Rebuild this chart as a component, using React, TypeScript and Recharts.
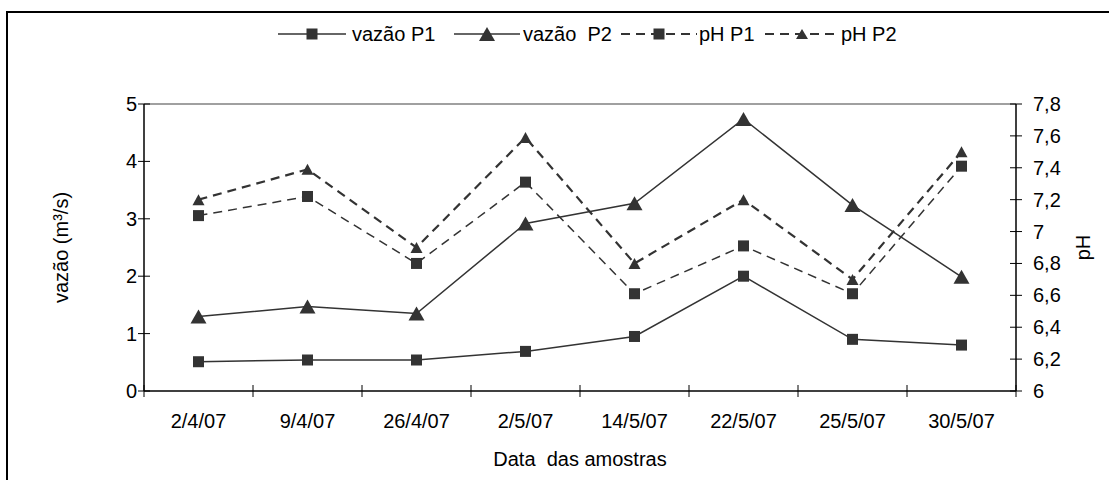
import React from 'react';
import { LineChart, Line, XAxis, YAxis, Legend, ReferenceLine } from 'recharts';

const categories = ['2/4/07', '9/4/07', '26/4/07', '2/5/07', '14/5/07', '22/5/07', '25/5/07', '30/5/07'];
const vazaoP1 = [0.51, 0.54, 0.54, 0.69, 0.95, 2.0, 0.9, 0.8];
const vazaoP2 = [1.3, 1.47, 1.35, 2.92, 3.27, 4.74, 3.24, 1.99];
const phP1 = [7.1, 7.22, 6.8, 7.31, 6.61, 6.91, 6.61, 7.41];
const phP2 = [7.2, 7.39, 6.9, 7.59, 6.8, 7.2, 6.7, 7.5];
const leftTicks = [0, 1, 2, 3, 4, 5];
const rightTicks = [6, 6.2, 6.4, 6.6, 6.8, 7, 7.2, 7.4, 7.6, 7.8];
const xTicks = [-0.5, 0, 0.5, 1, 1.5, 2, 2.5, 3, 3.5, 4, 4.5, 5, 5.5, 6, 6.5, 7, 7.5];

const data = categories.map((c, i) => ({
  x: i,
  cat: c,
  vazaoP1: vazaoP1[i],
  vazaoP2: vazaoP2[i],
  phP1: phP1[i],
  phP2: phP2[i],
}));

const INK = '#333333';
const FONT = '"Liberation Sans", Arial, sans-serif';

const squareDot = (size: number) => (props: any) => {
  const { cx, cy, index } = props;
  if (cx == null || cy == null) return <g key={`s${index}`} />;
  return <rect key={`s${index}`} x={cx - size / 2} y={cy - size / 2} width={size} height={size} fill={INK} />;
};

const triDot = (w: number, h: number) => (props: any) => {
  const { cx, cy, index } = props;
  if (cx == null || cy == null) return <g key={`t${index}`} />;
  const pts = `${cx},${cy - h / 2} ${cx + w / 2},${cy + h / 2} ${cx - w / 2},${cy + h / 2}`;
  return <polygon key={`t${index}`} points={pts} fill={INK} />;
};

const LeftTick = (props: any) => {
  const { x, y, payload } = props;
  return (
    <g>
      <line x1={x} y1={y} x2={x + 12} y2={y} stroke="#000" strokeWidth={1} />
      <text x={x - 1} y={y} dy="0.35em" textAnchor="end" fontSize={20} fontFamily={FONT} fill="#000">
        {String(payload.value)}
      </text>
    </g>
  );
};

const RightTick = (props: any) => {
  const { x, y, payload } = props;
  return (
    <g>
      <line x1={x - 12} y1={y} x2={x} y2={y} stroke="#000" strokeWidth={1} />
      <text x={x + 11} y={y} dy="0.35em" textAnchor="start" fontSize={20} fontFamily={FONT} fill="#000">
        {String(payload.value).replace('.', ',')}
      </text>
    </g>
  );
};

const XTick = (props: any) => {
  const { x, y, payload } = props;
  const v = payload.value;
  if (Number.isInteger(v)) {
    return (
      <text x={x} y={y + 31} textAnchor="middle" fontSize={20} fontFamily={FONT} fill="#000">
        {categories[v]}
      </text>
    );
  }
  return <line x1={x} y1={y - 12} x2={x} y2={y} stroke="#000" strokeWidth={1} />;
};

const legendItems = [
  { name: 'vazão P1', marker: 'square', dashed: false },
  { name: 'vazão  P2', marker: 'tri', dashed: false },
  { name: 'pH P1', marker: 'square', dashed: true },
  { name: 'pH P2', marker: 'tri', dashed: true },
];
const legendLineStart = [0, 176, 343, 487];
const legendLineWidth = [68, 66, 76, 74];
const legendTextStart = [74, 245, 421, 563];

const LegendContent = () => {
  const cy = 16;
  return (
    <svg width={660} height={32} style={{ overflow: 'visible' }}>
      {legendItems.map((it, i) => {
        const x0 = legendLineStart[i];
        const lw = legendLineWidth[i];
        const mx = x0 + lw / 2;
        return (
          <g key={it.name}>
            <line
              x1={x0}
              y1={cy}
              x2={x0 + lw}
              y2={cy}
              stroke={INK}
              strokeWidth={it.dashed ? 2 : 1.5}
              strokeDasharray={it.dashed ? '9 6' : undefined}
            />
            {it.marker === 'square' ? (
              <rect x={mx - 5.5} y={cy - 5.5} width={11} height={11} fill={INK} />
            ) : (
              <polygon
                points={
                  it.dashed
                    ? `${mx},${cy - 5} ${mx + 6},${cy + 5} ${mx - 6},${cy + 5}`
                    : `${mx},${cy - 7} ${mx + 8},${cy + 7} ${mx - 8},${cy + 7}`
                }
                fill={INK}
              />
            )}
            <text
              x={legendTextStart[i]}
              y={cy}
              dy="0.35em"
              fontSize={20}
              fontFamily={FONT}
              fill="#000"
              style={{ whiteSpace: 'pre' }}
            >
              {it.name}
            </text>
          </g>
        );
      })}
    </svg>
  );
};

export default function App() {
  return (
    <div style={{ position: 'absolute', left: 0, top: 0, width: 1109, height: 480, overflow: 'hidden', background: '#fff' }}>
      <div
        style={{
          position: 'absolute',
          left: 6,
          top: 11,
          width: 1200,
          height: 600,
          border: '2px solid #000',
        }}
      />
      <div style={{ position: 'absolute', left: 0, top: 0 }}>
        <LineChart width={1109} height={480} data={data} margin={{ top: 104, right: 0, bottom: 0, left: 0 }}>
          <XAxis
            dataKey="x"
            type="number"
            domain={[-0.5, 7.5]}
            ticks={xTicks}
            interval={0}
            height={89}
            tickSize={6}
            tickMargin={0}
            tickLine={false}
            tick={<XTick />}
            axisLine={{ stroke: '#000', strokeWidth: 1.5 }}
            label={{
              content: (p: any) => {
                const vb = p.viewBox;
                return (
                  <text x={vb.x + vb.width / 2} y={vb.y + 75} textAnchor="middle" fontSize={20} fontFamily={FONT} fill="#000" style={{ whiteSpace: 'pre' }}>
                    Data  das amostras
                  </text>
                );
              },
            }}
          />
          <YAxis
            yAxisId="left"
            domain={[0, 5]}
            ticks={leftTicks}
            interval={0}
            width={144}
            tickSize={6}
            tickMargin={0}
            tickLine={false}
            tick={<LeftTick />}
            axisLine={{ stroke: '#000', strokeWidth: 1.5 }}
            label={{
              content: (p: any) => {
                const vb = p.viewBox;
                const cx = vb.x + 61;
                const cy = vb.y + vb.height / 2;
                return (
                  <text x={cx} y={cy} dy="0.35em" textAnchor="middle" fontSize={20} fontFamily={FONT} fill="#000" transform={`rotate(-90, ${cx}, ${cy})`}>
                    vazão (m³/s)
                  </text>
                );
              },
            }}
          />
          <YAxis
            yAxisId="right"
            orientation="right"
            domain={[6, 7.8]}
            ticks={rightTicks}
            interval={0}
            width={93}
            tickSize={6}
            tickMargin={0}
            tickLine={false}
            tick={<RightTick />}
            axisLine={{ stroke: '#000', strokeWidth: 1.5 }}
            label={{
              content: (p: any) => {
                const vb = p.viewBox;
                const cx = vb.x + 67;
                const cy = vb.y + vb.height / 2;
                return (
                  <text x={cx} y={cy} dy="0.35em" textAnchor="middle" fontSize={20} fontFamily={FONT} fill="#000" transform={`rotate(-90, ${cx}, ${cy})`}>
                    pH
                  </text>
                );
              },
            }}
          />
          <ReferenceLine yAxisId="left" y={5} stroke="#808080" strokeWidth={1.5} />
          <Legend
            layout="vertical"
            verticalAlign="middle"
            align="center"
            content={<LegendContent />}
            wrapperStyle={{ position: 'absolute', top: 18, left: 278, width: 660, height: 32 }}
          />
          <Line
            yAxisId="left"
            dataKey="vazaoP1"
            name="vazão P1"
            stroke={INK}
            strokeWidth={1.5}
            dot={squareDot(11)}
            activeDot={false}
            isAnimationActive={false}
          />
          <Line
            yAxisId="left"
            dataKey="vazaoP2"
            name="vazão  P2"
            stroke={INK}
            strokeWidth={1.5}
            dot={triDot(16, 14)}
            activeDot={false}
            isAnimationActive={false}
          />
          <Line
            yAxisId="right"
            dataKey="phP1"
            name="pH P1"
            stroke={INK}
            strokeWidth={1.5}
            strokeDasharray="9 6"
            dot={squareDot(11)}
            activeDot={false}
            isAnimationActive={false}
          />
          <Line
            yAxisId="right"
            dataKey="phP2"
            name="pH P2"
            stroke={INK}
            strokeWidth={2.2}
            strokeDasharray="9 6"
            dot={triDot(12, 11)}
            activeDot={false}
            isAnimationActive={false}
          />
        </LineChart>
      </div>
    </div>
  );
}
